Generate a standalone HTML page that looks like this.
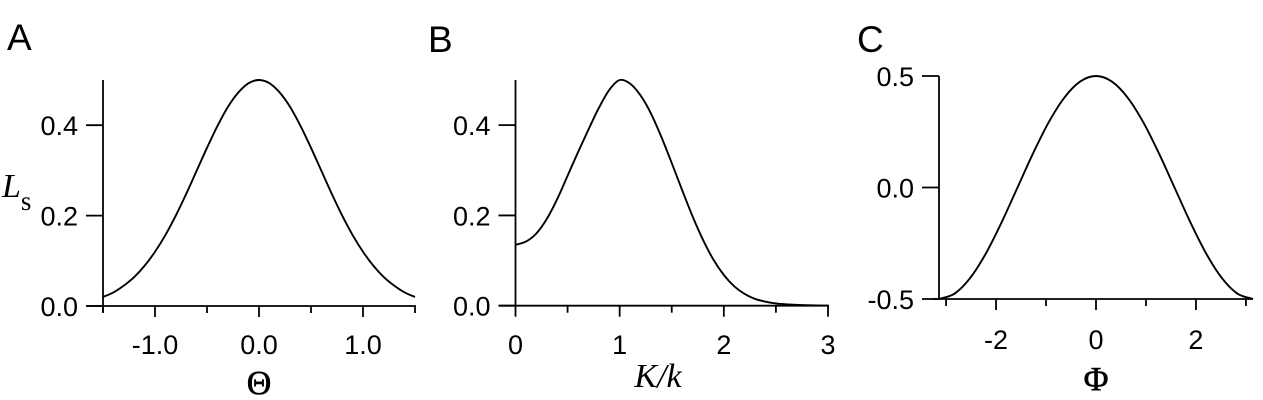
<!DOCTYPE html>
<html><head><meta charset="utf-8"><style>
html,body{margin:0;padding:0;background:#fff;}
svg{display:block;}
.tk{font-family:"Liberation Sans",sans-serif;font-size:27px;fill:#000;}
.ttl{font-family:"Liberation Serif",serif;font-size:34px;fill:#000;}
.lt{font-family:"Liberation Sans",sans-serif;font-size:37px;fill:#000;}
</style></head><body>
<svg id="fig" width="1263" height="400" viewBox="0 0 1263 400" xmlns="http://www.w3.org/2000/svg">
<text class="lt" x="7" y="50">A</text>
<text class="lt" x="428" y="52">B</text>
<text class="lt" x="857" y="52">C</text>
<text class="ttl" x="2" y="197" font-style="italic" font-size="33">L<tspan font-style="normal" font-size="27" dy="13">s</tspan></text>
<text class="ttl" x="259" y="394" text-anchor="middle" stroke="#000" stroke-width="0.6">Θ</text>
<text class="ttl" x="658" y="387" text-anchor="middle" font-style="italic" font-size="35">K/k</text>
<text class="ttl" x="1096" y="390" text-anchor="middle" stroke="#000" stroke-width="0.6">Φ</text>
</svg>
<script>
// Panel A data
const aX = [-1.5,-1.4,-1.3,-1.2,-1.1,-1.0,-0.9,-0.8,-0.7,-0.6,-0.5,-0.4,-0.3,-0.2,-0.1,0,0.1,0.2,0.3,0.4,0.5,0.6,0.7,0.8,0.9,1.0,1.1,1.2,1.3,1.4,1.5];
const aY = [0.020,0.030,0.045,0.064,0.089,0.120,0.157,0.200,0.248,0.299,0.350,0.398,0.440,0.472,0.493,0.5,0.493,0.472,0.440,0.398,0.350,0.299,0.248,0.200,0.157,0.120,0.089,0.064,0.045,0.030,0.020];
const aXTicks = [-1.0,0.0,1.0];
const aXTickLabels = ["-1.0","0.0","1.0"];
const aXMinor = [-1.5,-0.5,0.5,1.5];
const aYTicks = [0.0,0.2,0.4];
const aYTickLabels = ["0.0","0.2","0.4"];
// Panel B data
const bX = [0,0.1,0.2,0.3,0.4,0.5,0.6,0.7,0.8,0.9,1.0,1.1,1.2,1.3,1.4,1.5,1.6,1.7,1.8,1.9,2.0,2.1,2.2,2.3,2.4,2.5,2.6,2.7,2.8,2.9,3.0];
const bY = [0.135,0.142,0.160,0.192,0.236,0.288,0.340,0.390,0.438,0.478,0.5,0.492,0.466,0.426,0.374,0.316,0.256,0.198,0.146,0.102,0.068,0.043,0.026,0.015,0.009,0.005,0.003,0.002,0.001,0.0005,0.0003];
const bXTicks = [0,1,2,3];
const bXTickLabels = ["0","1","2","3"];
const bXMinor = [0.5,1.5,2.5];
const bYTicks = [0.0,0.2,0.4];
const bYTickLabels = ["0.0","0.2","0.4"];
// Panel C data
const cX = [-3.1416,-2.8274,-2.5133,-2.1991,-1.8850,-1.5708,-1.2566,-0.9425,-0.6283,-0.3142,0,0.3142,0.6283,0.9425,1.2566,1.5708,1.8850,2.1991,2.5133,2.8274,3.1416];
const cY = [-0.5,-0.4755,-0.4045,-0.2939,-0.1545,0,0.1545,0.2939,0.4045,0.4755,0.5,0.4755,0.4045,0.2939,0.1545,0,-0.1545,-0.2939,-0.4045,-0.4755,-0.5];
const cXTicks = [-2,0,2];
const cXTickLabels = ["-2","0","2"];
const cXMinor = [-3,-1,1,3];
const cYTicks = [-0.5,0.0,0.5];
const cYTickLabels = ["-0.5","0.0","0.5"];

const NS = "http://www.w3.org/2000/svg";
const svg = document.getElementById('fig');
function mk(tag, attrs){const e=document.createElementNS(NS,tag);for(const k in attrs)e.setAttribute(k,attrs[k]);svg.appendChild(e);return e;}
function smooth(pts){let d=`M${pts[0][0]},${pts[0][1]}`;for(let i=0;i<pts.length-1;i++){const p0=pts[Math.max(i-1,0)],p1=pts[i],p2=pts[i+1],p3=pts[Math.min(i+2,pts.length-1)];const c1x=p1[0]+(p2[0]-p0[0])/6,c1y=p1[1]+(p2[1]-p0[1])/6,c2x=p2[0]-(p3[0]-p1[0])/6,c2y=p2[1]-(p3[1]-p1[1])/6;d+=` C${c1x.toFixed(2)},${c1y.toFixed(2)} ${c2x.toFixed(2)},${c2y.toFixed(2)} ${p2[0].toFixed(2)},${p2[1].toFixed(2)}`;}return d;}

function panel(id, cfg){
  const sx=v=>cfg.x0+(v-cfg.xmin)*(cfg.x1-cfg.x0)/(cfg.xmax-cfg.xmin);
  const sy=v=>cfg.y0+(v-cfg.ymin)*(cfg.y1-cfg.y0)/(cfg.ymax-cfg.ymin);
  const yax=mk('line',{x1:cfg.yAxisX,x2:cfg.yAxisX,y1:sy(cfg.ymin)+(cfg.yExt||0),y2:sy(cfg.ymax),stroke:'#000','stroke-width':1.8});
  
  
  const xax=mk('line',{x1:cfg.xAxisStart,x2:cfg.xAxisEnd,y1:sy(cfg.ymin),y2:sy(cfg.ymin),stroke:'#000','stroke-width':1.8});
  
  
  const by=sy(cfg.ymin);
  cfg.xt.forEach((v,i)=>{
    const t=mk('line',{x1:sx(v),x2:sx(v),y1:by,y2:by+11,stroke:'#000','stroke-width':1.8});
    
    
    const l=mk('text',{x:sx(v),y:cfg.xLabelY,'text-anchor':'middle',class:'tk'});
    l.textContent=cfg.xl[i];
    
    
  });
  cfg.xm.forEach(v=>{
    const t=mk('line',{x1:sx(v),x2:sx(v),y1:by,y2:by+7,stroke:'#000','stroke-width':1.8});
    
    
  });
  cfg.yt.forEach((v,i)=>{
    const t=mk('line',{x1:cfg.yAxisX-17,x2:cfg.yAxisX,y1:sy(v),y2:sy(v),stroke:'#000','stroke-width':1.8});
    
    
    const l=mk('text',{x:cfg.yAxisX-25,y:sy(v)+10,'text-anchor':'end',class:'tk'});
    l.textContent=cfg.yl[i];
    
    
  });
  const pts=cfg.dx.map((v,i)=>[sx(v),sy(cfg.dy[i])]);
  const p=mk('path',{d:smooth(pts),fill:'none',stroke:'#000','stroke-width':1.9});
  
  
}
panel('a',{x0:103,x1:415,xmin:-1.5,xmax:1.5,y0:306,y1:80,ymin:0,ymax:0.5,yAxisX:103,yExt:6,xAxisStart:87,xAxisEnd:416,xLabelY:354,xt:aXTicks,xl:aXTickLabels,xm:aXMinor,yt:aYTicks,yl:aYTickLabels,dx:aX,dy:aY});
panel('b',{x0:515.5,x1:828,xmin:0,xmax:3,y0:305.7,y1:80,ymin:0,ymax:0.5,yAxisX:515.5,yExt:0,xAxisStart:499,xAxisEnd:829,xLabelY:354,xt:bXTicks,xl:bXTickLabels,xm:bXMinor,yt:bYTicks,yl:bYTickLabels,dx:bX,dy:bY});
panel('c',{x0:939,x1:1253,xmin:-3.1416,xmax:3.1416,y0:299,y1:76,ymin:-0.5,ymax:0.5,yAxisX:939,yExt:0,xAxisStart:933,xAxisEnd:1253,xLabelY:349,xt:cXTicks,xl:cXTickLabels,xm:cXMinor,yt:cYTicks,yl:cYTickLabels,dx:cX,dy:cY});
</script>
</body></html>
